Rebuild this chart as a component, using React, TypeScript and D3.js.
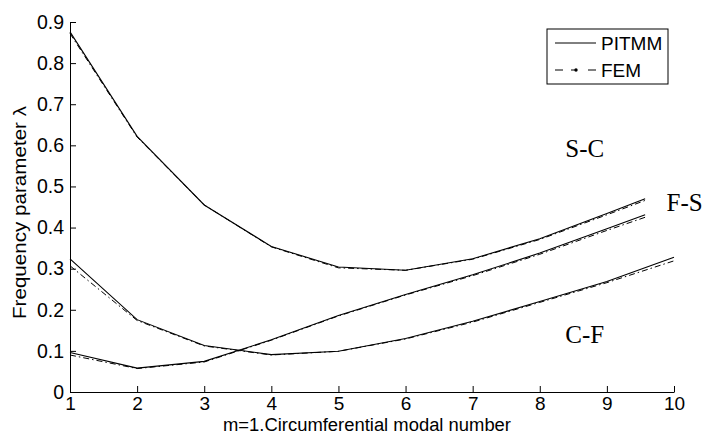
import React, { useEffect, useRef } from "react";
import * as d3 from "d3";

// circumferential modal number (S-C and F-S stop short of 10)
const mShort = [1, 2, 3, 4, 5, 6, 7, 8, 9, 9.57];
const mLong = [1, 2, 3, 4, 5, 6, 7, 8, 9, 10];

const scPitmm = [0.876, 0.622, 0.455, 0.354, 0.304, 0.296, 0.324, 0.373, 0.434, 0.47];
const scFem = [0.872, 0.62, 0.455, 0.353, 0.302, 0.296, 0.323, 0.371, 0.431, 0.466];
const fsPitmm = [0.096, 0.058, 0.0745, 0.127, 0.186, 0.237, 0.285, 0.338, 0.397, 0.431];
const fsFem = [0.09, 0.057, 0.073, 0.126, 0.185, 0.236, 0.283, 0.335, 0.393, 0.425];
const cfPitmm = [0.324, 0.176, 0.113, 0.091, 0.099, 0.13, 0.172, 0.22, 0.269, 0.328];
const cfFem = [0.307, 0.174, 0.112, 0.09, 0.099, 0.129, 0.17, 0.218, 0.266, 0.319];

const xTicks = [1, 2, 3, 4, 5, 6, 7, 8, 9, 10];
const yTicks = [0, 0.1, 0.2, 0.3, 0.4, 0.5, 0.6, 0.7, 0.8, 0.9];

const curveLabels = [
  { text: "S-C", m: 8.38, v: 0.571 },
  { text: "F-S", m: 9.89, v: 0.441 },
  { text: "C-F", m: 8.38, v: 0.12 },
];

const App: React.FC = () => {
  const svgRef = useRef<SVGSVGElement | null>(null);

  useEffect(() => {
    const width = 704;
    const height = 436;
    const margin = { top: 22, right: 30, bottom: 44, left: 70 };

    const xScale = d3
      .scaleLinear()
      .domain([1, 10])
      .range([margin.left, width - margin.right]);
    const yScale = d3
      .scaleLinear()
      .domain([0, 0.9])
      .range([height - margin.bottom, margin.top]);

    const svg = d3.select(svgRef.current).attr("width", width).attr("height", height);
    svg.selectAll("*").remove();

    const font = "'Liberation Sans', Arial, sans-serif";

    // X axis (ticks point inward)
    const xAxisGroup = svg
      .append("g")
      .attr("transform", `translate(0,${height - margin.bottom})`)
      .call(
        d3
          .axisBottom(xScale)
          .tickValues(xTicks)
          .tickSizeInner(-6)
          .tickSizeOuter(0)
          .tickPadding(5)
          .tickFormat(d3.format("d"))
      );
    xAxisGroup
      .selectAll("text")
      .style("font-size", "19px")
      .style("font-family", font)
      .style("fill", "black");
    xAxisGroup.selectAll("path,line").attr("stroke", "black");

    // Y axis
    const yAxisGroup = svg
      .append("g")
      .attr("transform", `translate(${margin.left},0)`)
      .call(
        d3
          .axisLeft(yScale)
          .tickValues(yTicks)
          .tickSizeInner(-6)
          .tickSizeOuter(0)
          .tickPadding(6)
          .tickFormat((d) => (d === 0 ? "0" : d3.format(".1f")(d as number)))
      );
    yAxisGroup
      .selectAll("text")
      .style("font-size", "19.5px")
      .style("font-family", font)
      .style("fill", "black");
    yAxisGroup.selectAll("path,line").attr("stroke", "black");

    const line = d3
      .line<[number, number]>()
      .x((d) => xScale(d[0]))
      .y((d) => yScale(d[1]));

    const series = [
      { m: mShort, pitmm: scPitmm, fem: scFem },
      { m: mShort, pitmm: fsPitmm, fem: fsFem },
      { m: mLong, pitmm: cfPitmm, fem: cfFem },
    ];

    const lines = svg.append("g");
    series.forEach((s) => {
      lines
        .append("path")
        .attr("d", line(s.m.map((m, i) => [m, s.fem[i]] as [number, number])))
        .attr("fill", "none")
        .attr("stroke", "black")
        .attr("stroke-width", 1)
        .attr("stroke-dasharray", "6,3,1.5,3");
      lines
        .append("path")
        .attr("d", line(s.m.map((m, i) => [m, s.pitmm[i]] as [number, number])))
        .attr("fill", "none")
        .attr("stroke", "black")
        .attr("stroke-width", 1.1);
    });

    // curve labels
    svg
      .append("g")
      .selectAll("text")
      .data(curveLabels)
      .enter()
      .append("text")
      .attr("x", (d) => xScale(d.m))
      .attr("y", (d) => yScale(d.v))
      .style("font-family", "'Liberation Serif', 'Times New Roman', serif")
      .style("font-size", "25px")
      .style("fill", "black")
      .text((d) => d.text);

    // Legend
    const legend = svg.append("g").attr("transform", "translate(547,29)");
    legend
      .append("rect")
      .attr("width", 121)
      .attr("height", 55)
      .attr("fill", "white")
      .attr("stroke", "black")
      .attr("stroke-width", 1);
    const items = [
      { name: "PITMM", dash: null as string | null },
      { name: "FEM", dash: "8,25,8" },
    ];
    items.forEach((it, i) => {
      const y = 14 + i * 27;
      legend
        .append("line")
        .attr("x1", 8)
        .attr("x2", 49)
        .attr("y1", y)
        .attr("y2", y)
        .attr("stroke", "black")
        .attr("stroke-width", 1)
        .attr("stroke-dasharray", it.dash);
      if (it.dash) {
        legend
          .append("line")
          .attr("x1", 24)
          .attr("x2", 30)
          .attr("y1", y)
          .attr("y2", y)
          .attr("stroke", "black")
          .attr("stroke-width", 1);
        legend
          .append("circle")
          .attr("cx", 29)
          .attr("cy", y)
          .attr("r", 1.7)
          .attr("fill", "black");
      }
      legend
        .append("text")
        .attr("x", 54)
        .attr("y", y + 7)
        .style("font-family", font)
        .style("font-size", "19px")
        .style("fill", "black")
        .text(it.name);
    });

    // xAxis label
    svg
      .append("text")
      .attr("x", 367)
      .attr("y", 431)
      .attr("text-anchor", "middle")
      .attr("textLength", 288)
      .attr("lengthAdjust", "spacingAndGlyphs")
      .style("font-family", font)
      .style("font-size", "18px")
      .style("fill", "black")
      .text("m=1.Circumferential modal number");

    // yAxis label
    svg
      .append("text")
      .attr("x", -212.5)
      .attr("y", 26)
      .attr("transform", "rotate(-90)")
      .attr("text-anchor", "middle")
      .attr("textLength", 213)
      .attr("lengthAdjust", "spacingAndGlyphs")
      .style("font-family", font)
      .style("font-size", "18.5px")
      .style("fill", "black")
      .text("Frequency parameter λ");
  }, []);

  return (
    <svg
      ref={svgRef}
      style={{ position: "absolute", left: 0, top: 0, background: "white" }}
    ></svg>
  );
};

export default App;
